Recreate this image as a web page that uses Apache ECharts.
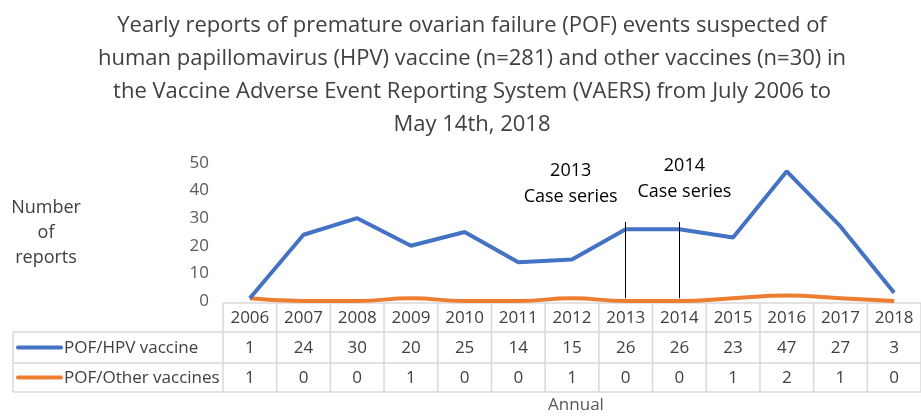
<!DOCTYPE html>
<html><head><meta charset="utf-8">
<script src="https://cdn.jsdelivr.net/npm/echarts@6/dist/echarts.min.js"></script>
<style>html,body{margin:0;padding:0;background:#fff}#c{width:921px;height:417px}</style>
</head><body><div id="c"></div>
<script>
const years = ['2006','2007','2008','2009','2010','2011','2012','2013','2014','2015','2016','2017','2018'];
const hpvValues = [1,24,30,20,25,14,15,26,26,23,47,27,3];
const otherValues = [1,0,0,1,0,0,1,0,0,1,2,1,0];
const seriesNames = ['POF/HPV vaccine','POF/Other vaccines'];
const seriesColors = ['#4472C4','#ED7D31'];
const annotations = [{year:'2013', label:'2013\nCase series'},{year:'2014', label:'2014\nCase series'}];
const titleText = 'Yearly reports of premature ovarian failure (POF) events suspected of\nhuman papillomavirus (HPV) vaccine (n=281) and other vaccines (n=30) in\nthe Vaccine Adverse Event Reporting System (VAERS) from July 2006 to\nMay 14th, 2018';

const FONT = '"Open Sans", sans-serif';
const chart = echarts.init(document.getElementById('c'));
const option = {
  animation:false,
  title:{text:titleText,left:467,top:4,textAlign:'center',
    textStyle:{fontFamily:FONT,fontSize:22,fontWeight:'normal',color:'#404040',lineHeight:33}},
  grid:{left:223,top:163,width:710,height:138},
  xAxis:{type:'category',data:years,boundaryGap:true,axisLine:{show:false},axisTick:{show:false},axisLabel:{show:false}},
  yAxis:{type:'value',min:0,max:50,interval:10,splitLine:{show:false},axisLine:{show:false},axisTick:{show:false},
    axisLabel:{fontFamily:FONT,fontSize:17,color:'#595959',margin:14}},
  series:[
    {name:seriesNames[0],type:'line',data:hpvValues,symbol:'none',lineStyle:{color:seriesColors[0],width:4},itemStyle:{color:seriesColors[0]},z:3,
     markLine:{silent:true,symbol:'none',label:{show:false},lineStyle:{color:'#000',width:1,type:'solid'},
       data:annotations.map(a=>[{coord:[a.year,28.6]},{coord:[a.year,1]}])}},
    {name:seriesNames[1],type:'line',data:otherValues,symbol:'none',smooth:0.5,lineStyle:{color:seriesColors[1],width:4},itemStyle:{color:seriesColors[1]},z:2}
  ]
};
chart.setOption(option);

const g = [];
const colW = chart.convertToPixel({xAxisIndex:0},years[1]) - chart.convertToPixel({xAxisIndex:0},years[0]);
const x0 = chart.convertToPixel({xAxisIndex:0},years[0]) - colW/2;
const rowTop = [303,332,363,392];
const leftX = 13;
const border = '#d9d9d9';
const lineStyle = {stroke:border,lineWidth:1.5};
function L(x1,y1,x2,y2){g.push({type:'line',shape:{x1,y1,x2,y2},style:lineStyle,silent:true});}
const xEnd = x0 + colW*years.length;
L(x0,rowTop[0],xEnd,rowTop[0]);
for(let r=1;r<4;r++) L(leftX,rowTop[r],xEnd,rowTop[r]);
L(leftX,rowTop[1],leftX,rowTop[3]);
for(let i=0;i<=years.length;i++) L(x0+colW*i,rowTop[0],x0+colW*i,rowTop[3]);
const cellText = {fontFamily:FONT,fontSize:17,fill:'#404040',align:'center',verticalAlign:'middle'};
const rows = [years, hpvValues, otherValues];
rows.forEach((arr,r)=>{
  const cy = (rowTop[r]+rowTop[r+1])/2;
  arr.forEach((v,i)=>{
    g.push({type:'text',x:chart.convertToPixel({xAxisIndex:0},years[i]),y:cy+1,style:Object.assign({text:String(v)},cellText),silent:true});
  });
});
[0,1].forEach(k=>{
  const cy=(rowTop[k+1]+rowTop[k+2])/2;
  g.push({type:'line',shape:{x1:18,y1:cy,x2:61,y2:cy},style:{stroke:seriesColors[k],lineWidth:4,lineCap:'round'},silent:true});
  g.push({type:'text',x:64,y:cy+1,style:{text:seriesNames[k],fontFamily:FONT,fontSize:17,fill:'#404040',align:'left',verticalAlign:'middle'},silent:true});
});
const annOffsets = [-55, 5];
annotations.forEach((a,k)=>{
  const px = chart.convertToPixel({xAxisIndex:0},a.year);
  g.push({type:'text',x:px+annOffsets[k],y:k===0?158:153,style:{text:a.label,fontFamily:FONT,fontSize:18,fill:'#000',align:'center',verticalAlign:'top',lineHeight:26},silent:true});
});
g.push({type:'text',x:46,y:195,style:{text:'Number\nof\nreports',fontFamily:FONT,fontSize:18,fill:'#404040',align:'center',verticalAlign:'top',lineHeight:25},silent:true});
g.push({type:'text',x:576,y:397,style:{text:'Annual',fontFamily:FONT,fontSize:17,fill:'#595959',align:'center',verticalAlign:'top'},silent:true});
chart.setOption({graphic:{elements:g}});
</script></body></html>
